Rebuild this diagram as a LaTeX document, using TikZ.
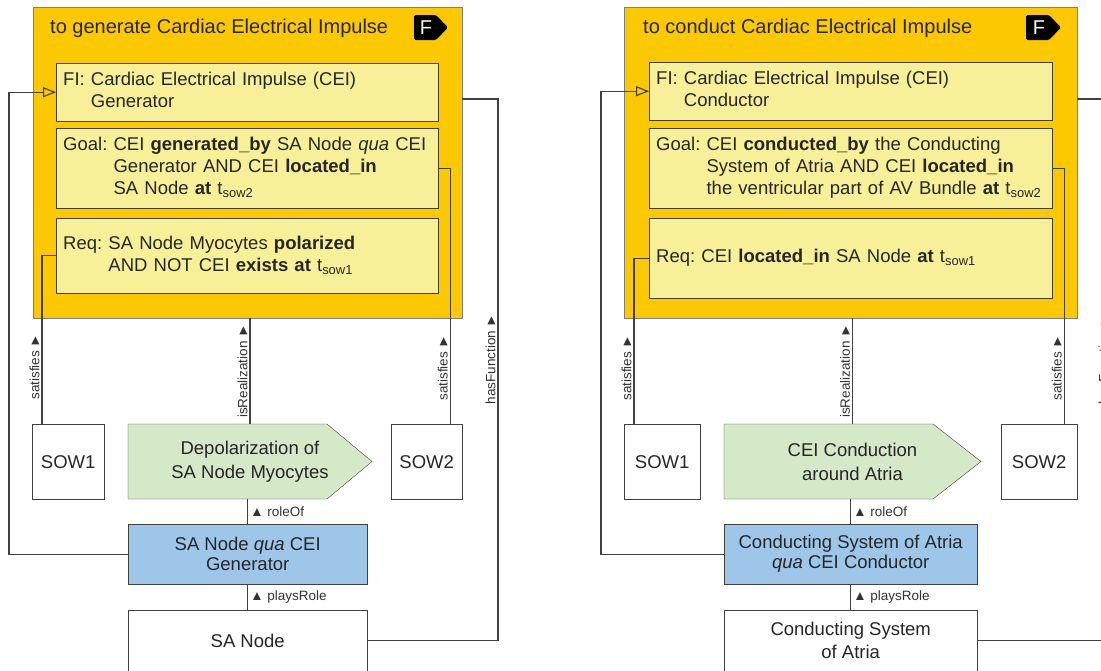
\documentclass[tikz,border=0pt]{standalone}
\usepackage{fontspec}
\setmainfont{Liberation Sans}
\usetikzlibrary{arrows.meta,calc}

\definecolor{fnyellow}{RGB}{252,201,0}
\definecolor{partyellow}{RGB}{247,240,153}
\definecolor{procgreen}{RGB}{213,232,199}
\definecolor{roleblue}{RGB}{158,198,232}
\definecolor{linegray}{RGB}{64,64,64}

\tikzstyle{function}=[draw=black!50,fill=fnyellow,anchor=north west,inner sep=0pt,minimum height=311pt]
\tikzstyle{fntitle}=[anchor=base west,inner sep=0pt,text=black!85,font=\fontsize{20}{24}\selectfont]
\tikzstyle{tag}=[fill=black,rounded corners=1.5pt]
\tikzstyle{tagtext}=[text=white,inner sep=0pt,font=\fontsize{20}{24}\selectfont]
\tikzstyle{part}=[draw=linegray,fill=partyellow,anchor=north west,align=left,inner sep=7pt,text=black!85,font=\fontsize{18.5}{22}\selectfont]
\tikzstyle{sow}=[draw=linegray,fill=white,anchor=north west,minimum height=75pt,inner sep=0pt,text=black!85,font=\fontsize{18.5}{22}\selectfont]
\tikzstyle{proc}=[draw=linegray,fill=procgreen]
\tikzstyle{proctext}=[minimum height=75pt,inner sep=0pt,align=center,text=black!85,font=\fontsize{18.5}{24}\selectfont]
\tikzstyle{role}=[draw=linegray,fill=roleblue,anchor=north west,minimum height=60pt,inner sep=0pt,align=center,text=black!85,font=\fontsize{18.5}{20}\selectfont]
\tikzstyle{thing}=[draw=linegray,fill=white,anchor=north west,minimum height=61pt,inner sep=0pt,align=center,text=black!85,font=\fontsize{18.5}{23}\selectfont]
\tikzstyle{link}=[draw=linegray,line width=1.1pt]
\tikzstyle{realizes}=[link,-{Triangle[open,length=13pt,width=10pt]}]
\tikzstyle{lbl}=[inner sep=2pt,text=black!80,font=\fontsize{13.5}{16}\selectfont]

\begin{document}
\begin{tikzpicture}[x=1pt,y=-1pt]
   \useasboundingbox (0,0) rectangle (1101,670);

   % to generate Cardiac Electrical Impulse
   \node[function,minimum width=429pt] (fnL) at (33,7) {};
   \node[fntitle] (titleL) at (50,33) {to generate Cardiac Electrical Impulse};
   \fill[tag] (414,15) -- ++(22,0) -- ++(12,12.5) -- ++(-12,12.5) -- ++(-22,0) -- cycle;
   \node[tagtext] (tagL) at (426,27.5) {F};

   \node[part,text width=368pt,minimum height=58pt] (fiL) at (56,63)
      {\begin{tabular}{@{}l@{\ }l@{}}FI: & Cardiac Electrical Impulse (CEI)\\ & Generator\end{tabular}};
   \node[part,text width=368pt,minimum height=80pt] (goalL) at (56,128)
      {\begin{tabular}{@{}l@{\ }l@{}}Goal: & CEI \textbf{generated\_by} SA Node \textit{qua} CEI\\
       & Generator AND CEI \textbf{located\_in}\\ & SA Node \textbf{at} t\textsubscript{sow2}\end{tabular}};
   \node[part,text width=368pt,minimum height=75pt] (reqL) at (56,218)
      {\begin{tabular}{@{}l@{\ }l@{}}Req: & SA Node Myocytes \textbf{polarized}\\
       & AND NOT CEI \textbf{exists at} t\textsubscript{sow1}\end{tabular}};

   \foreach \pos/ \name / \boxw / \label in {{(32,424)/sow1L/72/SOW1}, {(391,424)/sow2L/71/SOW2}}
       \node[sow,minimum width=\boxw pt] (\name) at \pos {\label};

   \draw[proc] (128,424) -- (327,424) -- (372,461.5) -- (327,499) -- (128,499) -- cycle;
   \node[proctext,minimum width=244pt] (depL) at (250,461.5) {Depolarization of\\SA Node Myocytes};
   \node[role,minimum width=239pt] (roleL) at (128,524) {SA Node \textit{qua} CEI\\Generator};
   \node[thing,minimum width=239pt] (saL) at (128,610) {SA Node};

   \coordinate (hfL) at (498,99);
   \draw[link] ([xshift=10pt]sow1L.north west) |- node[lbl,sloped,above,pos=0.17] {satisfies ►} (reqL.west);
   \draw[link] (depL.north) -- node[lbl,sloped,above] {isRealization ►} (depL.north |- fnL.south);
   \draw[link] ([xshift=-12pt]sow2L.north east) |- node[lbl,sloped,above,pos=0.11] {satisfies ►} (goalL.east);
   \draw[link] (saL.east) -| node[lbl,sloped,above,pos=0.76] {hasFunction ►} (hfL) -- (hfL -| fnL.east);
   \draw[link] (roleL.north) -- node[lbl,right] {▲ roleOf} (roleL.north |- depL.south);
   \draw[link] (saL.north) -- node[lbl,right] {▲ playsRole} (roleL.south);
   \draw[realizes] (roleL.west) -- ++(-119,0) |- (fiL.west);

   % to conduct Cardiac Electrical Impulse
   \node[function,minimum width=453pt] (fnR) at (624,7) {};
   \node[fntitle] (titleR) at (643,33) {to conduct Cardiac Electrical Impulse};
   \fill[tag] (1026,15) -- ++(23,0) -- ++(12,12.5) -- ++(-12,12.5) -- ++(-23,0) -- cycle;
   \node[tagtext] (tagR) at (1039,27.5) {F};

   \node[part,text width=389pt,minimum height=58pt] (fiR) at (649,62)
      {\begin{tabular}{@{}l@{\ }l@{}}FI: & Cardiac Electrical Impulse (CEI)\\ & Conductor\end{tabular}};
   \node[part,text width=389pt,minimum height=80pt] (goalR) at (649,128)
      {\begin{tabular}{@{}l@{\ }l@{}}Goal: & CEI \textbf{conducted\_by} the Conducting\\
       & System of Atria AND CEI \textbf{located\_in}\\
       & the ventricular part of AV Bundle \textbf{at} t\textsubscript{sow2}\end{tabular}};
   \node[part,text width=389pt,minimum height=80pt] (reqR) at (649,218)
      {\begin{tabular}{@{}l@{\ }l@{}}Req: & CEI \textbf{located\_in} SA Node \textbf{at} t\textsubscript{sow1}\end{tabular}};

   \foreach \pos/ \name / \boxw / \label in {{(624,424)/sow1R/76/SOW1}, {(1001,424)/sow2R/76/SOW2}}
       \node[sow,minimum width=\boxw pt] (\name) at \pos {\label};

   \draw[proc] (724,424) -- (933,424) -- (981,461.5) -- (933,499) -- (724,499) -- cycle;
   \node[proctext,minimum width=257pt] (depR) at (852.5,461.5) {CEI Conduction\\around Atria};
   \node[role,minimum width=253pt] (roleR) at (724,524) {Conducting System of Atria\\\textit{qua} CEI Conductor};
   \node[thing,minimum width=253pt] (csaR) at (724,610) {Conducting System\\of Atria};

   \coordinate (hfR) at (1111,99);
   \draw[link] ([xshift=10pt]sow1R.north west) |- node[lbl,sloped,above,pos=0.17] {satisfies ►} (reqR.west);
   \draw[link] (depR.north) -- node[lbl,sloped,above] {isRealization ►} (depR.north |- fnR.south);
   \draw[link] ([xshift=-13pt]sow2R.north east) |- node[lbl,sloped,above,pos=0.11] {satisfies ►} (goalR.east);
   \draw[link] (csaR.east) -| node[lbl,sloped,above,pos=0.76] {hasFunction ►} (hfR) -- (hfR -| fnR.east);
   \draw[link] (roleR.north) -- node[lbl,right] {▲ roleOf} (roleR.north |- depR.south);
   \draw[link] (csaR.north) -- node[lbl,right] {▲ playsRole} (roleR.south);
   \draw[realizes] (roleR.west) -- ++(-123,0) |- (fiR.west);

\end{tikzpicture}
\end{document}
